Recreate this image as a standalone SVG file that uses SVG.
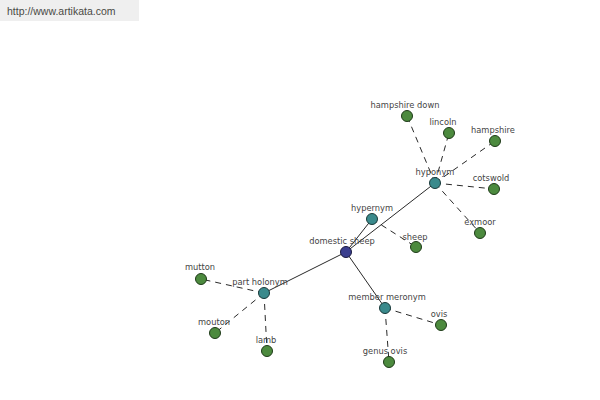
<svg xmlns="http://www.w3.org/2000/svg" width="600" height="400" viewBox="0 0 600 400">
<style>
.bg{fill:#ffffff}
.hdr{fill:#efefef}
.hdrt{font-family:"Liberation Sans",Arial,sans-serif;font-size:10.5px;fill:#4a4a44}
.lbl{font-family:"DejaVu Sans","Liberation Sans",sans-serif;font-size:8.3px;fill:#444444;text-anchor:middle}
.solid{stroke:#111111;stroke-width:0.9;fill:none}
.dash{stroke:#111111;stroke-width:0.9;fill:none;stroke-dasharray:6 5}
.root{fill:#3b3f8f;stroke:#1a1a40;stroke-width:1}
.mid{fill:#3a8a8c;stroke:#1a3a3a;stroke-width:1}
.leaf{fill:#4c8a3e;stroke:#1e3a18;stroke-width:1}
</style>
<rect class="bg" x="0" y="0" width="600" height="400"/>
<rect class="hdr" x="0" y="0" width="139" height="21"/>
<text class="hdrt" x="7" y="15">http://www.artikata.com</text>
<g id="connectors">
<line class="solid" x1="346" y1="252" x2="372" y2="219"/>
<line class="solid" x1="346" y1="252" x2="435" y2="183"/>
<line class="solid" x1="346" y1="252" x2="264" y2="293"/>
<line class="solid" x1="346" y1="252" x2="385" y2="308"/>
<line class="dash" x1="435" y1="183" x2="407" y2="116"/>
<line class="dash" x1="435" y1="183" x2="449" y2="133"/>
<line class="dash" x1="435" y1="183" x2="495" y2="141"/>
<line class="dash" x1="435" y1="183" x2="494" y2="189"/>
<line class="dash" x1="435" y1="183" x2="480" y2="233"/>
<line class="dash" x1="372" y1="219" x2="416" y2="247"/>
<line class="dash" x1="264" y1="293" x2="201" y2="279"/>
<line class="dash" x1="264" y1="293" x2="215" y2="333"/>
<line class="dash" x1="264" y1="293" x2="267" y2="351"/>
<line class="dash" x1="385" y1="308" x2="441" y2="325"/>
<line class="dash" x1="385" y1="308" x2="389" y2="362"/>
</g>
<g id="n-domestic-sheep"><circle class="root" cx="346" cy="252" r="5.5"/><text class="lbl" x="342" y="244">domestic sheep</text></g>
<g id="n-hypernym"><circle class="mid" cx="372" cy="219" r="5.5"/><text class="lbl" x="372" y="211">hypernym</text></g>
<g id="n-hyponym"><circle class="mid" cx="435" cy="183" r="5.5"/><text class="lbl" x="435" y="175">hyponym</text></g>
<g id="n-part-holonym"><circle class="mid" cx="264" cy="293" r="5.5"/><text class="lbl" x="260" y="285">part holonym</text></g>
<g id="n-member-meronym"><circle class="mid" cx="385" cy="308" r="5.5"/><text class="lbl" x="387" y="300">member meronym</text></g>
<g id="n-hampshire-down"><circle class="leaf" cx="407" cy="116" r="5.5"/><text class="lbl" x="405" y="108">hampshire down</text></g>
<g id="n-lincoln"><circle class="leaf" cx="449" cy="133" r="5.5"/><text class="lbl" x="443" y="125">lincoln</text></g>
<g id="n-hampshire"><circle class="leaf" cx="495" cy="141" r="5.5"/><text class="lbl" x="493" y="133">hampshire</text></g>
<g id="n-cotswold"><circle class="leaf" cx="494" cy="189" r="5.5"/><text class="lbl" x="491" y="181">cotswold</text></g>
<g id="n-exmoor"><circle class="leaf" cx="480" cy="233" r="5.5"/><text class="lbl" x="480" y="225">exmoor</text></g>
<g id="n-sheep"><circle class="leaf" cx="416" cy="247" r="5.5"/><text class="lbl" x="415" y="240">sheep</text></g>
<g id="n-mutton"><circle class="leaf" cx="201" cy="279" r="5.5"/><text class="lbl" x="200" y="270">mutton</text></g>
<g id="n-mouton"><circle class="leaf" cx="215" cy="333" r="5.5"/><text class="lbl" x="214" y="325">mouton</text></g>
<g id="n-lamb"><circle class="leaf" cx="267" cy="351" r="5.5"/><text class="lbl" x="266" y="343">lamb</text></g>
<g id="n-ovis"><circle class="leaf" cx="441" cy="325" r="5.5"/><text class="lbl" x="439" y="317">ovis</text></g>
<g id="n-genus-ovis"><circle class="leaf" cx="389" cy="362" r="5.5"/><text class="lbl" x="385" y="354">genus ovis</text></g>
</svg>
